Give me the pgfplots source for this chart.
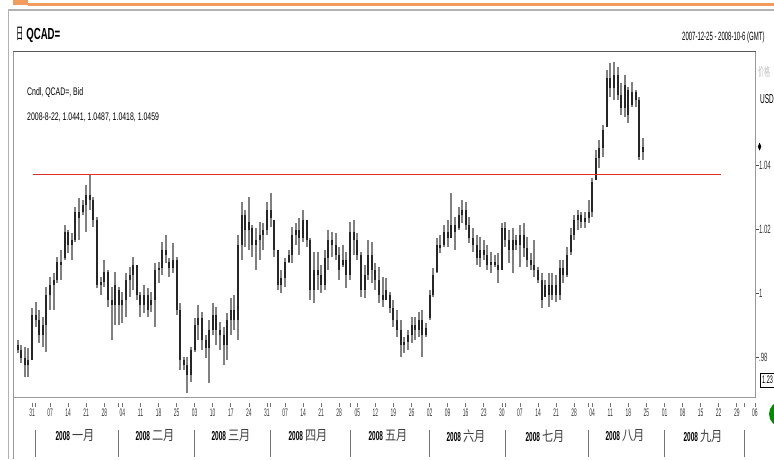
\documentclass[border=0pt]{standalone}
\usepackage{pgfplots}
\pgfplotsset{compat=1.18}
\usepackage{pgfplotstable}
\usepackage{graphicx}
\usepackage{fontspec}
\setmainfont{Liberation Sans}
\newfontfamily\cjk{Noto Sans CJK SC}
\newcommand\sq[2][0.5]{\scalebox{#1}[1]{#2}}
\newcommand\fs[1]{\fontsize{#1}{#1}\selectfont}
\definecolor{hdr}{RGB}{242,155,95}
\definecolor{trend}{RGB}{228,45,45}

% daily bars, d = trading day (0 = 2007-12-31)
\pgfplotstableread{
d o h l c
-4 0.9838 0.9853 0.9813 0.9822
-3 0.9822 0.9838 0.9781 0.9797
-2 0.9797 0.9831 0.9737 0.9775
-1 0.9775 0.9828 0.9737 0.9791
0 0.9791 0.9954 0.9791 0.9932
1 0.9932 0.9972 0.9894 0.9916
2 0.9916 0.9947 0.9844 0.9869
3 0.9869 0.9925 0.9831 0.9900
4 0.9900 1.0019 0.9816 0.9994
5 0.9994 1.0051 0.9947 1.0026
6 1.0026 1.0063 0.9947 1.0041
7 1.0041 1.0113 1.0032 1.0098
8 1.0098 1.0135 1.0041 1.0088
9 1.0110 1.0214 1.0104 1.0192
10 1.0192 1.0198 1.0126 1.0151
11 1.0151 1.0189 1.0104 1.0167
12 1.0167 1.0270 1.0160 1.0254
13 1.0254 1.0298 1.0167 1.0236
14 1.0254 1.0292 1.0245 1.0276
15 1.0276 1.0339 1.0192 1.0308
16 1.0308 1.0370 1.0261 1.0292
17 1.0292 1.0301 1.0207 1.0229
18 1.0229 1.0239 1.0016 1.0026
19 1.0026 1.0051 0.9994 1.0035
20 1.0035 1.0104 1.0019 1.0066
21 1.0066 1.0073 0.9957 0.9979
22 0.9979 1.0019 0.9853 0.9963
23 0.9963 1.0066 0.9900 1.0026
24 1.0010 1.0019 0.9900 0.9963
25 0.9963 1.0004 0.9907 0.9979
26 0.9979 1.0063 0.9925 1.0041
27 1.0041 1.0082 0.9988 1.0057
28 1.0057 1.0113 1.0010 1.0088
29 1.0088 1.0088 0.9979 0.9994
30 0.9994 1.0004 0.9925 0.9963
31 0.9963 1.0026 0.9938 0.9994
32 0.9994 1.0016 0.9925 0.9947
33 0.9963 1.0004 0.9941 0.9979
34 0.9979 1.0095 0.9894 1.0073
35 1.0073 1.0098 1.0032 1.0079
36 1.0079 1.0160 1.0057 1.0135
37 1.0135 1.0182 1.0095 1.0120
38 1.0098 1.0110 1.0051 1.0079
39 1.0079 1.0157 1.0063 1.0104
40 1.0104 1.0113 0.9932 0.9947
41 0.9947 0.9969 0.9759 0.9791
42 0.9791 0.9800 0.9759 0.9775
43 0.9775 0.9800 0.9687 0.9744
44 0.9744 0.9831 0.9722 0.9822
45 0.9822 0.9922 0.9816 0.9900
46 0.9900 0.9963 0.9853 0.9922
47 0.9922 0.9941 0.9822 0.9853
48 0.9853 0.9869 0.9797 0.9828
49 0.9828 0.9916 0.9719 0.9885
50 0.9885 0.9969 0.9869 0.9932
51 0.9932 0.9957 0.9838 0.9885
52 0.9885 0.9910 0.9822 0.9869
53 0.9869 0.9894 0.9775 0.9838
54 0.9838 0.9938 0.9791 0.9916
55 0.9916 0.9985 0.9869 0.9947
56 0.9947 0.9994 0.9885 0.9916
57 0.9916 1.0182 0.9853 1.0151
58 1.0151 1.0286 1.0104 1.0245
59 1.0245 1.0261 1.0145 1.0198
60 1.0198 1.0301 1.0135 1.0223
61 1.0204 1.0214 1.0113 1.0151
62 1.0151 1.0204 1.0073 1.0167
63 1.0167 1.0223 1.0104 1.0182
64 1.0182 1.0220 1.0135 1.0198
65 1.0198 1.0286 1.0182 1.0261
66 1.0261 1.0314 1.0207 1.0236
67 1.0229 1.0229 1.0113 1.0135
68 1.0135 1.0135 1.0010 1.0026
69 1.0026 1.0073 1.0001 1.0048
70 1.0048 1.0110 1.0019 1.0098
71 1.0098 1.0135 1.0095 1.0120
72 1.0120 1.0207 1.0095 1.0182
73 1.0182 1.0220 1.0151 1.0198
74 1.0198 1.0236 1.0120 1.0173
75 1.0173 1.0261 1.0160 1.0229
76 1.0229 1.0229 1.0145 1.0167
77 1.0167 1.0173 0.9979 1.0010
78 1.0010 1.0129 0.9969 1.0073
79 1.0073 1.0129 1.0010 1.0057
80 1.0057 1.0088 1.0001 1.0026
81 1.0026 1.0135 1.0010 1.0110
82 1.0110 1.0198 1.0073 1.0167
83 1.0167 1.0192 1.0113 1.0151
84 1.0151 1.0189 1.0104 1.0120
85 1.0120 1.0145 1.0041 1.0073
86 1.0088 1.0151 1.0082 1.0104
87 1.0104 1.0129 1.0016 1.0057
88 1.0057 1.0223 1.0041 1.0192
89 1.0192 1.0229 1.0120 1.0167
90 1.0167 1.0189 1.0104 1.0120
91 1.0120 1.0129 0.9988 1.0010
92 1.0010 1.0088 0.9985 1.0057
93 1.0057 1.0167 1.0041 1.0120
94 1.0120 1.0160 1.0032 1.0073
95 1.0073 1.0095 1.0010 1.0041
96 1.0041 1.0082 0.9969 0.9994
97 0.9994 1.0051 0.9957 0.9979
98 0.9979 1.0048 0.9979 1.0010
99 0.9994 1.0004 0.9938 0.9954
100 0.9954 0.9979 0.9894 0.9916
101 0.9916 0.9947 0.9863 0.9885
102 0.9885 0.9916 0.9800 0.9838
103 0.9838 0.9863 0.9813 0.9847
104 0.9847 0.9885 0.9822 0.9869
105 0.9869 0.9925 0.9844 0.9900
106 0.9900 0.9925 0.9853 0.9885
107 0.9885 0.9941 0.9863 0.9916
108 0.9916 0.9947 0.9800 0.9869
109 0.9869 0.9907 0.9863 0.9891
110 0.9922 1.0010 0.9916 0.9994
111 0.9994 1.0079 0.9988 1.0057
112 1.0066 1.0173 1.0063 1.0151
113 1.0151 1.0182 1.0126 1.0142
114 1.0151 1.0214 1.0145 1.0192
115 1.0192 1.0229 1.0145 1.0173
116 1.0173 1.0314 1.0173 1.0214
117 1.0214 1.0239 1.0135 1.0192
118 1.0204 1.0270 1.0198 1.0245
119 1.0245 1.0292 1.0220 1.0261
120 1.0261 1.0286 1.0198 1.0214
121 1.0214 1.0239 1.0157 1.0173
122 1.0173 1.0204 1.0129 1.0151
123 1.0151 1.0182 1.0088 1.0110
124 1.0110 1.0176 1.0082 1.0135
125 1.0135 1.0167 1.0104 1.0120
126 1.0120 1.0151 1.0073 1.0088
127 1.0088 1.0129 1.0063 1.0098
128 1.0098 1.0120 1.0082 1.0088
129 1.0088 1.0126 1.0032 1.0073
130 1.0073 1.0220 1.0073 1.0204
131 1.0204 1.0223 1.0145 1.0167
132 1.0167 1.0198 1.0095 1.0135
133 1.0135 1.0204 1.0063 1.0167
134 1.0167 1.0182 1.0135 1.0151
135 1.0151 1.0214 1.0082 1.0182
136 1.0182 1.0220 1.0113 1.0142
137 1.0142 1.0176 1.0082 1.0104
138 1.0104 1.0126 1.0073 1.0088
139 1.0088 1.0167 1.0051 1.0073
140 1.0073 1.0082 1.0032 1.0041
141 1.0041 1.0063 0.9954 0.9979
142 0.9988 1.0041 0.9988 1.0026
143 1.0026 1.0063 0.9957 0.9994
144 0.9994 1.0063 0.9979 1.0026
145 1.0026 1.0057 0.9972 0.9994
146 0.9994 1.0104 0.9979 1.0079
147 1.0079 1.0104 1.0032 1.0057
148 1.0057 1.0145 1.0051 1.0120
149 1.0129 1.0204 1.0120 1.0182
150 1.0182 1.0245 1.0167 1.0229
151 1.0229 1.0261 1.0198 1.0245
152 1.0245 1.0254 1.0204 1.0223
153 1.0223 1.0254 1.0204 1.0236
154 1.0236 1.0292 1.0220 1.0254
155 1.0254 1.0361 1.0239 1.0348
156 1.0355 1.0449 1.0355 1.0424
157 1.0424 1.0480 1.0392 1.0455
158 1.0455 1.0527 1.0427 1.0511
159 1.0521 1.0699 1.0521 1.0674
160 1.0674 1.0721 1.0615 1.0643
161 1.0643 1.0724 1.0605 1.0684
162 1.0684 1.0709 1.0605 1.0621
163 1.0621 1.0659 1.0558 1.0580
164 1.0580 1.0684 1.0552 1.0652
165 1.0637 1.0646 1.0533 1.0558
166 1.0590 1.0662 1.0583 1.0630
167 1.0630 1.0637 1.0583 1.0605
168 1.0605 1.0615 1.0417 1.0427
169 1.0441 1.0487 1.0418 1.0459
}\ohlc

\begin{document}
\begin{tikzpicture}[x=1pt,y=1pt]
\useasboundingbox (0,0) rectangle (774,459);

% window chrome
\fill[hdr] (13,454) rectangle (28,459);
\fill[hdr] (28,453.3) rectangle (774,455.8);
\draw[black!30, line width=1.2pt] (8,449) -- (774,449);
\draw[black!30, line width=1pt] (8,449) -- (8,0);
\draw[black!40, line width=0.8pt] (13,62) -- (13,0);

\begin{axis}[
  at={(13pt,62pt)}, anchor=south west,
  scale only axis, width=742.5pt, height=345.5pt,
  xmin=-5.26, xmax=200.17, ymin=0.96748, ymax=1.07571,
  clip=false,
  axis line style={black!40, line width=0.8pt},
  tick align=outside, major tick length=3pt,
  xtick pos=left, ytick pos=right, yticklabel pos=right,
  xtick={0,5,...,200},
  xticklabels={31,07,14,21,28,04,11,18,25,03,10,17,24,31,07,14,21,28,05,12,19,26,02,09,16,23,30,07,14,21,28,04,11,18,25,01,08,15,22,29,06},
  xtick style={draw=none},
  xticklabel style={font=\fs{11}, xscale=0.45, inner sep=0pt, anchor=north, yshift=-9pt, text=black!80},
  ytick={0.98,1,1.02,1.04},
  yticklabels={.98,1,1.02,1.04},
  ytick style={black!70, line width=0.6pt},
  yticklabel style={font=\fs{12}, xscale=0.5, inner sep=1pt, text=black!80},
]
% high-low range
\addplot[draw=none, mark=none,
  error bars/.cd, y dir=plus, y explicit, error mark=none,
  error mark options={draw=none, mark size=0pt},
  error bar style={draw=black!50, line width=2pt}]
  table[x=d, y=l, y error plus expr={\thisrow{h}-\thisrow{l}}] {\ohlc};
% open-close body
\addplot[draw=none, mark=none,
  error bars/.cd, y dir=plus, y explicit, error mark=none,
  error mark options={draw=none, mark size=0pt},
  error bar style={draw=black!85, line width=2pt}]
  table[x=d, y expr={min(\thisrow{o},\thisrow{c})},
        y error plus expr={abs(\thisrow{c}-\thisrow{o})}] {\ohlc};
% resistance line
\addplot[trend, line width=1.3pt] coordinates {(0.3,1.0371) (190.5,1.0371)};
% last price marker
\addplot[only marks, mark=diamond*, mark size=3.5pt,
  mark options={xscale=0.55, fill=black, draw=black}] coordinates {(201.3,1.0459)};
\end{axis}

\draw[black!65, line width=1.5pt] (13,407.5) -- (755.5,407.5);

% title row
\node[anchor=west, inner sep=0] at (16,424)
  {\sq[0.45]{\cjk\fs{16}日}\hspace{3pt}\sq[0.6]{\fs{16}\bfseries QCAD=}};
\node[anchor=west, inner sep=0] at (682,422)
  {\sq[0.5]{\fs{12}2007-12-25 - 2008-10-6 (GMT)}};

% legend text
\node[anchor=west, inner sep=0] at (27,366) {\sq[0.63]{\fs{11}Cndl, QCAD=, Bid}};
\node[anchor=west, inner sep=0] at (27,342)
  {\sq[0.63]{\fs{11}2008-8-22, 1.0441, 1.0487, 1.0418, 1.0459}};

% right column
\node[anchor=west, inner sep=0, text=black!25] at (758,387) {\sq[0.5]{\cjk\fs{12}价格}};
\node[anchor=west, inner sep=0] at (760,360) {\sq[0.5]{\fs{13}USD}};
\draw[black, line width=0.9pt] (760.5,72) rectangle (780,86);
\node[anchor=west, inner sep=0] at (762,79) {\sq[0.5]{\fs{11}1.23}};
\fill[green!55!black] (782,45) circle (13);

% week and month tick marks under the axis
\foreach \i in {0,5,...,200} {\draw[black!55, line width=0.7pt] ({32+3.6145*\i},56) -- ++(0,-4);}
\foreach \i in {1,24,66,88,131,154,197} {\draw[black!55, line width=0.7pt] ({32+3.6145*\i},56) -- ++(0,-4);}

% month row
\foreach \sx in {35.6,118.7,194.7,270.6,350.1,429.6,505.5,588.6,664.5,744.1}
  {\draw[black!55, line width=0.8pt] (\sx,2) -- (\sx,29);}
\foreach \cx/\m in {75/一月,155/二月,231/三月,308/四月,388/五月,466/六月,545/七月,625/八月,703/九月}
  {\node[inner sep=0] at (\cx,23)
    {\sq[0.5]{\fs{13}\bfseries 2008}\hspace{2pt}\sq[0.8]{\cjk\fs{14}\textcolor{black!75}{\m}}};}
\end{tikzpicture}
\end{document}
